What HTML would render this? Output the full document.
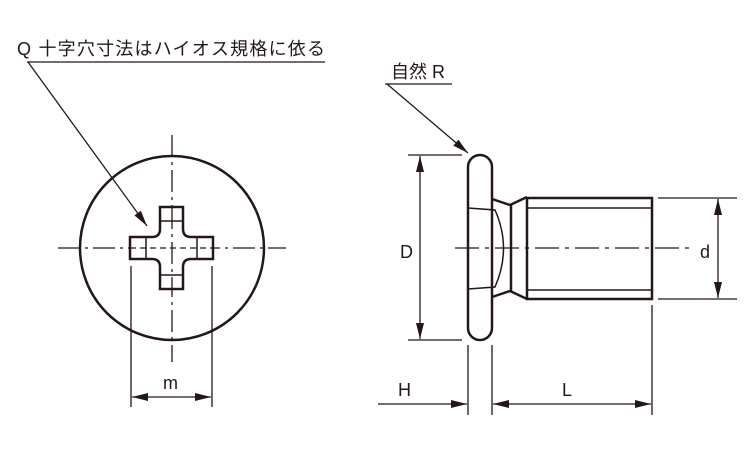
<!DOCTYPE html>
<html><head><meta charset="utf-8"><style>
html,body{margin:0;padding:0;background:#fff;}
svg{display:block;}
text{font-family:"Liberation Sans","Noto Sans CJK JP",sans-serif;fill:#231815;}
</style></head><body>
<svg width="750" height="450" viewBox="0 0 750 450" xmlns="http://www.w3.org/2000/svg">
<defs>
<marker id="a" viewBox="0 0 10 10" refX="10" refY="5" markerWidth="10" markerHeight="10" markerUnits="userSpaceOnUse" orient="auto-start-reverse"><path d="M0,1.5 L10,5 L0,8.5 z" fill="#231815"/></marker>
<marker id="b" viewBox="0 0 16 10" refX="16" refY="5" markerWidth="16" markerHeight="10" markerUnits="userSpaceOnUse" orient="auto-start-reverse"><path d="M0,1 L16,5 L0,9 z" fill="#231815"/></marker>
</defs>
<g stroke="#231815" fill="none">
<!-- labels -->
<text x="17" y="55" font-size="18" stroke="none" textLength="308">Q 十字穴寸法はハイオス規格に依る</text>
<line x1="27" y1="62" x2="325" y2="62" stroke-width="1.3"/>
<line x1="28" y1="62" x2="147" y2="226" stroke-width="1.3" marker-end="url(#b)"/>
<text x="391" y="78" font-size="18" stroke="none">自然 R</text>
<line x1="385" y1="84" x2="452" y2="84" stroke-width="1.3"/>
<line x1="387" y1="84" x2="468" y2="153" stroke-width="1.3" marker-end="url(#b)"/>

<!-- left view -->
<circle cx="172" cy="248" r="92" stroke-width="2.5"/>
<line x1="58" y1="248" x2="286" y2="248" stroke-width="1.3" stroke-dasharray="22,5,3,5"/>
<line x1="172" y1="135" x2="172" y2="362" stroke-width="1.3" stroke-dasharray="22,5,3,5"/>
<path d="M160,207 H183 V229 Q183,237 191,237 H213 V259 H191 Q183,259 183,267 V289 H160 V267 Q160,259 152,259 H130 V237 H152 Q160,237 160,229 Z" stroke-width="2.5" fill="#fff"/>
<path d="M160,221 H183 M160,275 H183 M146,237 V259 M197,237 V259" stroke-width="1.5"/>
<line x1="172" y1="207" x2="172" y2="289" stroke-width="1.3" stroke-dasharray="22,5,3,5"/>
<line x1="130" y1="248" x2="213" y2="248" stroke-width="1.3" stroke-dasharray="6,4"/>
<line x1="131" y1="266" x2="131" y2="407" stroke-width="1.3"/>
<line x1="212" y1="266" x2="212" y2="407" stroke-width="1.3"/>
<line x1="132" y1="397" x2="211" y2="397" stroke-width="1.3" marker-start="url(#b)" marker-end="url(#b)"/>
<text x="163" y="389" font-size="18" stroke="none">m</text>

<!-- side view -->
<line x1="455" y1="248" x2="690" y2="248" stroke-width="1.3" stroke-dasharray="24,6,4,6"/>
<rect x="468" y="155" width="24" height="185" rx="12" stroke-width="2.5" fill="none"/>
<path d="M492,199 L510,205 L527,197" stroke-width="2.5"/>
<path d="M492,297 L510,291 L527,299" stroke-width="2.5"/>
<line x1="511" y1="205" x2="511" y2="291" stroke-width="2.5"/>
<rect x="527" y="198" width="125" height="101" stroke-width="2.5"/>
<line x1="527" y1="208" x2="652" y2="208" stroke-width="1.5"/>
<line x1="527" y1="290" x2="652" y2="290" stroke-width="1.5"/>
<path d="M468,208 L495,210 Q512,248 495,287 L468,289" stroke-width="1.5"/>
<!-- D -->
<line x1="408" y1="155" x2="462" y2="155" stroke-width="1.3"/>
<line x1="408" y1="340" x2="462" y2="340" stroke-width="1.3"/>
<line x1="420" y1="156" x2="420" y2="339" stroke-width="1.3" marker-start="url(#b)" marker-end="url(#b)"/>
<text x="400" y="258" font-size="18" stroke="none">D</text>
<!-- d -->
<line x1="658" y1="198" x2="737" y2="198" stroke-width="1.3"/>
<line x1="658" y1="299" x2="737" y2="299" stroke-width="1.3"/>
<line x1="718" y1="199" x2="718" y2="298" stroke-width="1.3" marker-start="url(#b)" marker-end="url(#b)"/>
<text x="700" y="258" font-size="18" stroke="none">d</text>
<!-- H & L -->
<line x1="468" y1="345" x2="468" y2="415" stroke-width="1.3"/>
<line x1="492" y1="345" x2="492" y2="415" stroke-width="1.3"/>
<line x1="652" y1="305" x2="652" y2="415" stroke-width="1.3"/>
<line x1="378" y1="404" x2="467" y2="404" stroke-width="1.3" marker-end="url(#b)"/>
<line x1="493" y1="404" x2="651" y2="404" stroke-width="1.3" marker-start="url(#b)" marker-end="url(#b)"/>
<text x="398" y="396" font-size="18" stroke="none">H</text>
<text x="562" y="396" font-size="18" stroke="none">L</text>
</g>
</svg>
</body></html>
